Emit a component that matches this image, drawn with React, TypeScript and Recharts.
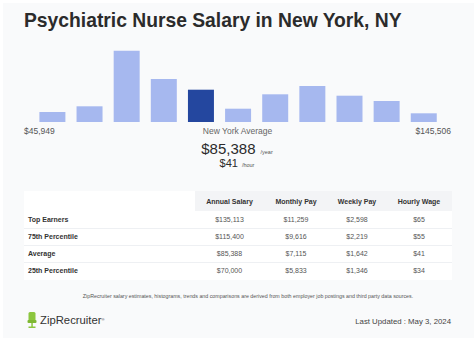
import React from 'react';
import { BarChart, Bar, XAxis, YAxis, Cell } from 'recharts';

const binLabels = ['b1', 'b2', 'b3', 'b4', 'b5', 'b6', 'b7', 'b8', 'b9', 'b10', 'b11'];
const binShares = [10, 15.7, 71.3, 43, 32.3, 13.3, 27.7, 36, 26.3, 21, 8.7];
const highlightIndex = 4;

const minSalary = '$45,949';
const maxSalary = '$145,506';
const avgYear = '$85,388';
const avgHour = '$41';

const columnHeaders = ['Annual Salary', 'Monthly Pay', 'Weekly Pay', 'Hourly Wage'];
const rowLabels = ['Top Earners', '75th Percentile', 'Average', '25th Percentile'];
const annualSalary = ['$135,113', '$115,400', '$85,388', '$70,000'];
const monthlyPay = ['$11,259', '$9,616', '$7,115', '$5,833'];
const weeklyPay = ['$2,598', '$2,219', '$1,642', '$1,346'];
const hourlyWage = ['$65', '$55', '$41', '$34'];

const chartData = binLabels.map((b, i) => ({ bin: b, share: binShares[i] }));

const FONT = '"Liberation Sans", Arial, Helvetica, sans-serif';

const colCenters = [229.5, 296, 357, 419];
const rowCenters = [219.5, 236.7, 254, 271];

export default function App() {
  const txt = (
    content: React.ReactNode,
    x: number,
    y: number,
    style: React.CSSProperties,
    align: 'left' | 'center' | 'right' = 'left',
    key?: string
  ) => {
    const w = 400;
    let left = x;
    if (align === 'center') left = x - w / 2;
    if (align === 'right') left = x - w;
    return (
      <div
        key={key}
        style={{
          position: 'absolute',
          left,
          top: y - 10,
          width: w,
          height: 20,
          lineHeight: '20px',
          textAlign: align,
          whiteSpace: 'nowrap',
          ...style,
        }}
      >
        {content}
      </div>
    );
  };

  return (
    <div
      style={{
        position: 'absolute',
        left: 0,
        top: 0,
        width: 474,
        height: 338,
        background: '#ffffff',
        fontFamily: FONT,
        overflow: 'hidden',
      }}
    >
      <div
        style={{
          position: 'absolute',
          left: 3,
          top: 3,
          width: 471,
          height: 335,
          background: '#f9fafb',
        }}
      />
      {txt('Psychiatric Nurse Salary in New York, NY', 24, 21, { fontSize: 19.3, fontWeight: 700, color: '#2b2b2b' })}

      <div style={{ position: 'absolute', left: 0, top: 0 }}>
        <BarChart
          width={474}
          height={130}
          data={chartData}
          margin={{ top: 50.7, right: 32.1, bottom: 8, left: 33.4 }}
        >
          <XAxis dataKey="bin" hide />
          <YAxis hide domain={[0, 71.3]} />
          <Bar dataKey="share" barSize={26} isAnimationActive={false}>
            {chartData.map((d, i) => (
              <Cell key={d.bin} fill={i === highlightIndex ? '#24479f' : '#a6b8ef'} />
            ))}
          </Bar>
        </BarChart>
      </div>

      {txt(minSalary, 24, 130.5, { fontSize: 8.5, color: '#555' })}
      {txt('New York Average', 237.5, 130.5, { fontSize: 8.5, color: '#666' }, 'center')}
      {txt(maxSalary, 451, 130.5, { fontSize: 8.5, color: '#555' }, 'right')}

      {txt(
        <span>
          {avgYear}
          <span style={{ fontSize: 5.5, marginLeft: 5, color: '#555' }}>/year</span>
        </span>,
        237,
        148.5,
        { fontSize: 15, color: '#2b2b2b' },
        'center'
      )}
      {txt(
        <span>
          {avgHour}
          <span style={{ fontSize: 5.5, marginLeft: 4, color: '#555' }}>/hour</span>
        </span>,
        237,
        163,
        { fontSize: 11, color: '#2b2b2b' },
        'center'
      )}

      <div style={{ position: 'absolute', left: 24, top: 191, width: 428, height: 89, background: '#ffffff' }} />
      <div style={{ position: 'absolute', left: 195, top: 191, width: 257, height: 20, background: '#f3f4f6' }} />
      {[228, 245, 262].map((y) => (
        <div key={y} style={{ position: 'absolute', left: 24, top: y, width: 428, height: 1, background: '#eef0f3' }} />
      ))}

      {columnHeaders.map((h, i) =>
        txt(h, colCenters[i], 201.5, { fontSize: 7, fontWeight: 700, color: '#333' }, 'center', 'h' + i)
      )}
      {rowLabels.map((r, i) =>
        txt(r, 28, rowCenters[i], { fontSize: 7, fontWeight: 700, color: '#333' }, 'left', 'r' + i)
      )}
      {[annualSalary, monthlyPay, weeklyPay, hourlyWage].map((col, ci) =>
        col.map((v, ri) =>
          txt(v, colCenters[ci], rowCenters[ri], { fontSize: 7, color: '#555' }, 'center', 'c' + ci + '-' + ri)
        )
      )}

      {txt(
        'ZipRecruiter salary estimates, histograms, trends and comparisons are derived from both employer job postings and third party data sources.',
        248,
        296,
        { fontSize: 5.3, color: '#555' },
        'center'
      )}

      <svg style={{ position: 'absolute', left: 27, top: 312 }} width={12} height={18}>
        <rect x={1.5} y={0} width={7} height={9} rx={1.5} fill="#8cc63f" />
        <rect x={0.5} y={8} width={9} height={3} rx={1} fill="#7fb832" />
        <rect x={4.3} y={11} width={1.5} height={4.5} fill="#8cc63f" />
        <rect x={1.5} y={14.5} width={7} height={1.5} fill="#8cc63f" />
      </svg>
      {txt(
        <span>
          ZipRecruiter<span style={{ fontSize: 4, verticalAlign: 'top' }}>®</span>
        </span>,
        40,
        320,
        { fontSize: 11.3, fontWeight: 500, color: '#333' }
      )}
      {txt('Last Updated : May 3, 2024', 451, 322, { fontSize: 7.8, color: '#444' }, 'right')}
    </div>
  );
}
